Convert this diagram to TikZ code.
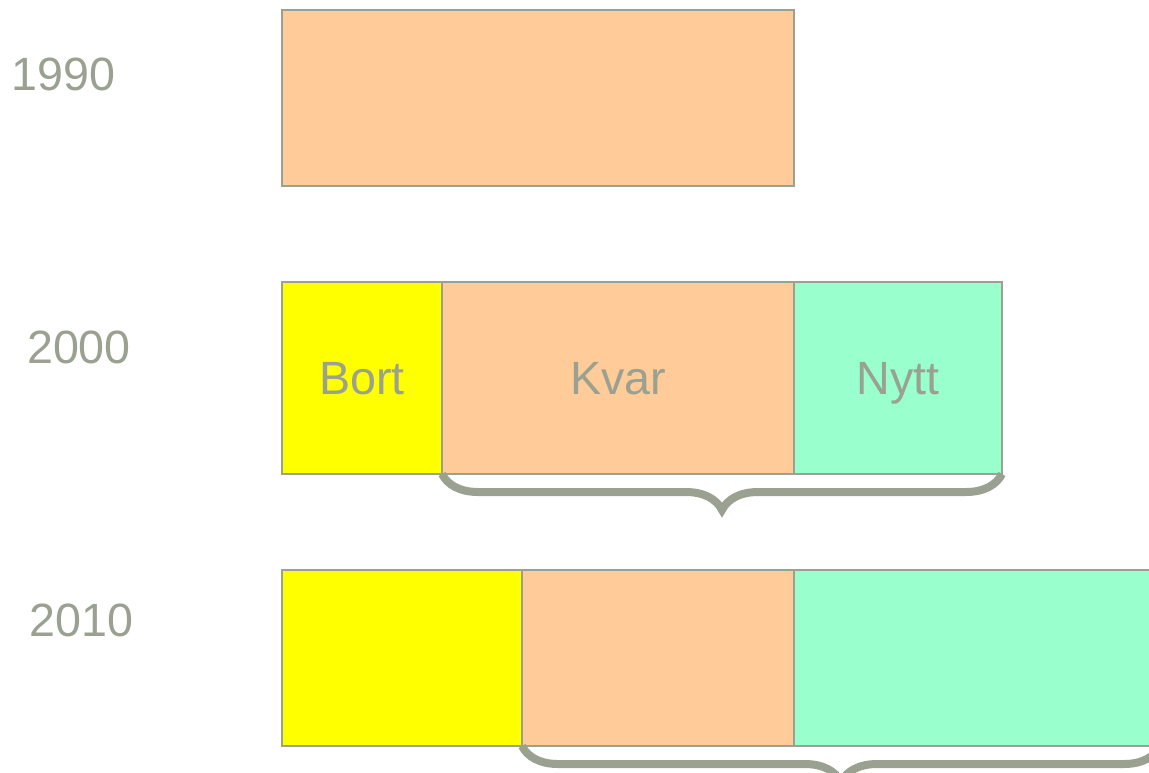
\documentclass[tikz,border=0pt]{standalone}
\usepackage{fontspec}
\setmainfont{Liberation Sans}
\usepackage{tikz}
\usetikzlibrary{decorations.pathreplacing}

\definecolor{peach}{HTML}{FFCC99}
\definecolor{mint}{HTML}{99FFCC}
\definecolor{lemon}{HTML}{FFFF00}
\definecolor{greyline}{HTML}{9AA190}

\begin{document}
\begin{tikzpicture}[
		x=0.75pt, y=-0.75pt,
		every node/.style={text=greyline, font=\fontsize{35}{42}\selectfont},
		box/.style={rectangle, draw=greyline, line width=1.5pt, outer sep=0pt,
			inner sep=0pt, anchor=north west, minimum height=132pt,
			text height=25pt, text depth=0pt},
		tall/.style={minimum height=144pt},
		brace_line/.style={draw=greyline, line width=6pt,
			decorate, decoration={brace, mirror, amplitude=27pt}}
	]
  \useasboundingbox (0,0) rectangle (1149,772);
  \clip (0,0) rectangle (1149,772);
  % years
  \node (y_1990) at (63.5, 74.5) {1990};
  \node (y_2000) at (79, 347) {2000};
  \node (y_2010) at (81.5, 620) {2010};
  % 1990
  \node (old_1990) [box, fill=peach, minimum width=384pt] at (282, 10) {};
  % 2000
  \node (bort_2000) [box, tall, fill=lemon, minimum width=120pt] at (282, 282) {Bort};
  \node (kvar_2000) [box, tall, fill=peach, minimum width=264pt] at (bort_2000.north east) {Kvar};
  \node (nytt_2000) [box, tall, fill=mint, minimum width=156pt] at (kvar_2000.north east) {Nytt};
  % 2010
  \node (bort_2010) [box, fill=lemon, minimum width=180pt] at (282, 570) {};
  \node (kvar_2010) [box, fill=peach, minimum width=204pt] at (bort_2010.north east) {};
  \node (nytt_2010) [box, fill=mint, minimum width=274.5pt] at (kvar_2010.north east) {};
  \draw [brace_line] (kvar_2000.south west) -- (nytt_2000.south east);
  \draw [brace_line] (kvar_2010.south west) -- (nytt_2010.south east);
\end{tikzpicture}
\end{document}
